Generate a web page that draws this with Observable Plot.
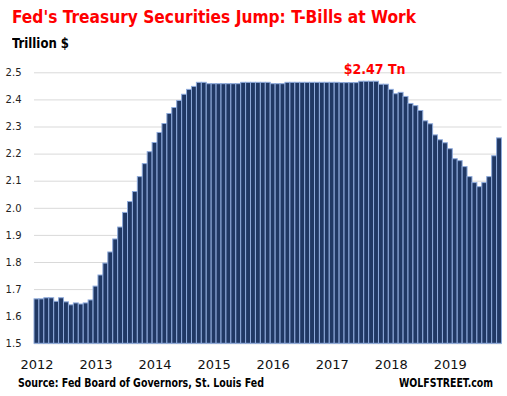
<!DOCTYPE html>
<html><head><meta charset="utf-8">
<script src="https://cdn.jsdelivr.net/npm/d3@7"></script>
<script src="https://cdn.jsdelivr.net/npm/@observablehq/plot@0.6"></script>
<style>
body{margin:0;background:#fff;}
#wrap{position:relative;width:507px;height:396px;overflow:hidden;}
.t{position:absolute;white-space:nowrap;line-height:1;font-weight:bold;transform-origin:0 0;}
#title{left:12px;top:9px;font-family:"DejaVu Sans Condensed","DejaVu Sans",sans-serif;font-size:17.5px;color:#ff0000;}
#sub{left:12px;top:36px;font-family:"DejaVu Sans Condensed","DejaVu Sans",sans-serif;font-size:14px;color:#000;}
#src{left:18px;top:378px;font-family:"DejaVu Sans Condensed","DejaVu Sans",sans-serif;font-size:11.5px;color:#000;}
#brand{left:399px;top:378px;font-family:"DejaVu Sans Condensed","DejaVu Sans",sans-serif;font-size:11.5px;color:#000;}
#chart{position:absolute;left:0;top:50px;}
</style></head>
<body>
<div id="wrap">
  <div class="t" id="title" data-w="404">Fed's Treasury Securities Jump: T-Bills at Work</div>
  <div class="t" id="sub" data-w="57">Trillion $</div>
  <div id="chart"></div>
  <div class="t" id="src" data-w="246">Source: Fed Board of Governors, St. Louis Fed</div>
  <div class="t" id="brand" data-w="94">WOLFSTREET.com</div>
</div>
<script>
// Monthly Treasury securities held by the Fed, trillion $ (Jan of each year onward)
const years = ["2012","2013","2014","2015","2016","2017","2018","2019"];
const v2012 = [1.664,1.664,1.668,1.668,1.655,1.668,1.653,1.642,1.649,1.645,1.649,1.660];
const v2013 = [1.711,1.752,1.796,1.837,1.885,1.929,1.983,2.023,2.060,2.115,2.163,2.207];
const v2014 = [2.241,2.278,2.311,2.348,2.370,2.396,2.419,2.437,2.448,2.463,2.463,2.458];
const v2015 = [2.458,2.458,2.458,2.458,2.458,2.458,2.463,2.463,2.463,2.463,2.463,2.463];
const v2016 = [2.458,2.458,2.458,2.463,2.463,2.463,2.463,2.463,2.463,2.463,2.463,2.463];
const v2017 = [2.463,2.463,2.462,2.462,2.462,2.462,2.467,2.467,2.467,2.467,2.456,2.456];
const v2018 = [2.437,2.421,2.426,2.411,2.385,2.377,2.359,2.321,2.310,2.269,2.251,2.240];
const v2019 = [2.218,2.181,2.174,2.152,2.115,2.093,2.078,2.093,2.115,2.192,2.258];
const monthCodes = ["01","02","03","04","05","06","07","08","09","10","11","12"];
const yTicks = [1.5,1.6,1.7,1.8,1.9,2.0,2.1,2.2,2.3,2.4,2.5];
const peakLabel = "$2.47 Tn";
const peakMonth = "2017-09";
const peakY = 2.5;

const series = [v2012,v2013,v2014,v2015,v2016,v2017,v2018,v2019];
const data = [];
years.forEach((yr, i) => series[i].forEach((v, m) => data.push({month: yr + "-" + monthCodes[m], value: v})));
const months = data.map(d => d.month);
const xTicks = years.map(y => y + "-01");

const chart = Plot.plot({
  width: 507, height: 325,
  marginLeft: 34, marginRight: 5.5, marginTop: 22.3, marginBottom: 31.7,
  style: {background: "#fff", overflow: "visible"},
  x: {type: "band", domain: months, padding: 0, axis: null, label: null},
  y: {domain: [1.5, 2.5], axis: null, label: null},
  marks: [
    Plot.ruleY(yTicks, {stroke: "#d9d9d9", strokeWidth: 1}),
    Plot.barY(data, {x: "month", y1: 1.5, y2: "value", fill: "#203864", stroke: "#8eaadb", strokeWidth: 1}),
    Plot.axisY(yTicks, {tickSize: 0, tickPadding: 13, tickFormat: d3.format(".1f"), label: null,
      fontSize: 10, fontFamily: "DejaVu Sans", fill: "#222"}),
    Plot.axisX(xTicks, {tickSize: 0, tickPadding: 16, tickFormat: d => d.slice(0, 4), label: null,
      fontSize: 13, fontFamily: "DejaVu Sans", fill: "#111"}),
    Plot.text([peakLabel], {x: () => peakMonth, y: () => peakY, text: d => d, dx: 3, dy: -3,
      fill: "#ff0000", fontSize: 14, fontWeight: "bold", fontFamily: "DejaVu Sans Condensed"})
  ]
});
document.getElementById("chart").appendChild(chart);

document.querySelectorAll(".t[data-w]").forEach(el => {
  const target = +el.dataset.w;
  const w = el.getBoundingClientRect().width;
  if (w > 0) el.style.transform = `scaleX(${target / w})`;
});
</script>
</body></html>
